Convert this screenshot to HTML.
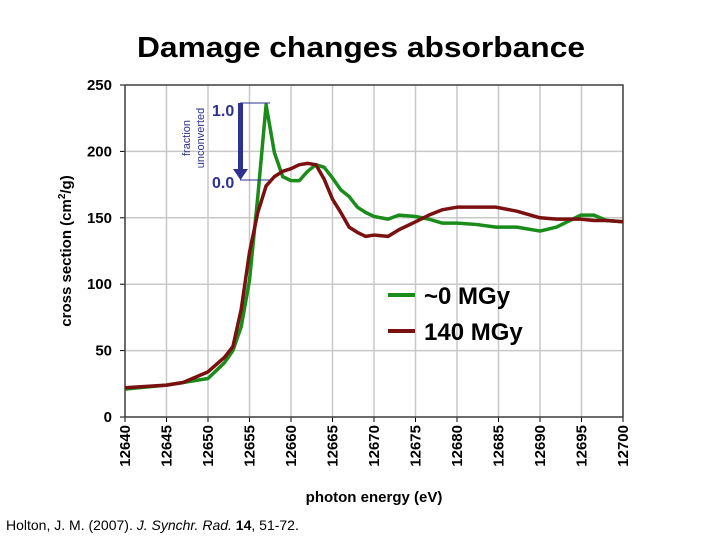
<!DOCTYPE html>
<html><head><meta charset="utf-8"><style>
body{margin:0;background:#fff;}
svg{display:block;font-family:"Liberation Sans",Arial,sans-serif;}
</style></head><body>
<svg id="c" width="720" height="540" viewBox="0 0 720 540">
<text x="137" y="57" font-size="29" font-weight="bold" textLength="448" lengthAdjust="spacingAndGlyphs">Damage changes absorbance</text>
<g id="grid"></g>
<g id="axes"></g>
<g id="series"></g>
<text x="374" y="502" text-anchor="middle" font-size="15" font-weight="bold">photon energy (eV)</text>
<text transform="translate(71,251) rotate(-90)" text-anchor="middle" font-size="15" font-weight="bold">cross section (cm<tspan font-size="10" dy="-6">2</tspan><tspan dy="6">/g)</tspan></text>
<g fill="#2e3192">
<text transform="translate(190,138) rotate(-90)" text-anchor="middle" font-size="11">fraction</text>
<text transform="translate(204,138) rotate(-90)" text-anchor="middle" font-size="11">unconverted</text>
<text x="212" y="116" font-size="16" font-weight="bold">1.0</text>
<text x="212" y="188" font-size="16" font-weight="bold">0.0</text>
<line x1="240" y1="103" x2="270" y2="103" stroke="#2e3192" stroke-width="1"/>
<line x1="240" y1="180" x2="270" y2="180" stroke="#2e3192" stroke-width="1"/>
<rect x="238" y="103" width="5" height="68" fill="#2e3192"/>
<polygon points="233,169 248,169 240.5,180" fill="#2e3192"/>
</g>
<g>
<line x1="388" y1="295" x2="415" y2="295" stroke="#1a8c1a" stroke-width="4"/>
<text x="424" y="304" font-size="24" font-weight="bold">~0 MGy</text>
<line x1="388" y1="331" x2="415" y2="331" stroke="#7a1010" stroke-width="4"/>
<text x="424" y="340" font-size="24" font-weight="bold">140 MGy</text>
</g>
<text x="6" y="530" font-size="14">Holton, J. M. (2007). <tspan font-style="italic">J. Synchr. Rad.</tspan> <tspan font-weight="bold">14</tspan>, 51-72.</text>
</svg>
<script>
const energies=[12640,12645,12647,12650,12652,12653,12654,12655,12656,12657,12658,12659,12660,12661,12662,12663,12664,12665,12666,12667,12668,12669,12670,12671.7,12673,12675,12676.6,12678.2,12680,12682.3,12684.7,12687.2,12690,12692,12694.9,12696.5,12698,12700];
const green0=[21,24,26,29,41,50,68,103,166,235,199,181,178,178,185,190,188,180,171,166,158,154,151,149,152,151,149,146,146,145,143,143,140,143,152,152,148,147];
const red140=[22,24,26,34,45,53,81,124,154,174,181,185,187,190,191,190,179,164,154,143,139,136,137,136,141,147,152,156,158,158,158,155,150,149,149,148,148,147];
const yTicks=[0,50,100,150,200,250];
const xTicks=[12640,12645,12650,12655,12660,12665,12670,12675,12680,12685,12690,12695,12700];
const X0=125,X1=623,Y0=417,Y1=85;
const xs=v=>X0+(v-12640)/60*(X1-X0);
const ys=v=>Y0-v/250*(Y0-Y1);
const NS="http://www.w3.org/2000/svg";
function mk(t,a,p){const e=document.createElementNS(NS,t);for(const k in a)e.setAttribute(k,a[k]);p.appendChild(e);return e;}
const grid=document.getElementById('grid'),axes=document.getElementById('axes'),ser=document.getElementById('series');
mk('rect',{x:X0,y:Y1,width:X1-X0,height:Y0-Y1,fill:'#fff',stroke:'none'},grid);
yTicks.forEach(v=>{
 const l=mk('line',{x1:X0,x2:X1,y1:ys(v),y2:ys(v),stroke:'#c8c8c8','stroke-width':1.5},grid);
 
 
 mk('line',{x1:X0-5,x2:X0,y1:ys(v),y2:ys(v),stroke:'#000'},axes);
 const t=mk('text',{x:X0-13,y:ys(v)+5,'text-anchor':'end','font-size':15,'font-weight':'bold'},axes);
 t.textContent=v;
 
 
});
xTicks.forEach(v=>{
 const l=mk('line',{x1:xs(v),x2:xs(v),y1:Y1,y2:Y0,stroke:'#c8c8c8','stroke-width':1.5},grid);
 
 
 mk('line',{x1:xs(v),x2:xs(v),y1:Y0,y2:Y0+5,stroke:'#000'},axes);
 const t=mk('text',{transform:`translate(${xs(v)+5},${Y0+8}) rotate(-90)`,'text-anchor':'end','font-size':15,'font-weight':'bold'},axes);
 t.textContent=v;
 
 
});
const fr=mk('rect',{x:X0,y:Y1,width:X1-X0,height:Y0-Y1,fill:'none',stroke:'#444','stroke-width':1.5},axes);


function line(vals,col,name){
 const p=mk('polyline',{points:vals.map((v,i)=>xs(energies[i])+','+ys(v)).join(' '),fill:'none',stroke:col,'stroke-width':3.5,'stroke-linejoin':'round'},ser);
 
 
}
line(green0,'#1a8c1a','series-0-mgy');
line(red140,'#7a1010','series-140-mgy');
</script>
</body></html>
